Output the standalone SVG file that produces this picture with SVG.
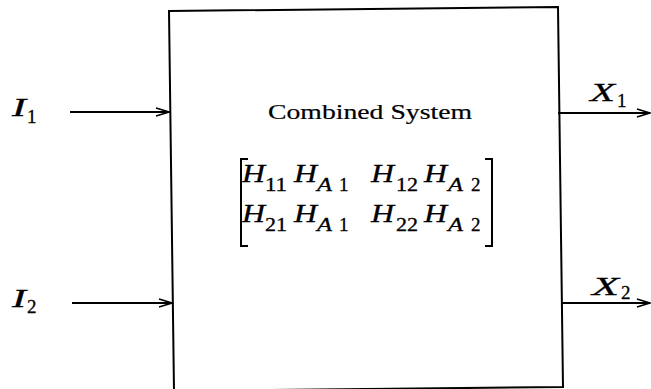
<svg xmlns="http://www.w3.org/2000/svg" width="651" height="389" viewBox="0 0 651 389">
<style>
.ln{stroke:#000;stroke-width:2;fill:none}
.v{font-family:"Liberation Serif",serif;font-style:italic;font-size:26px;fill:#000;stroke:#000;stroke-width:0.3}
.sub{font-family:"Liberation Serif",serif;font-size:19px;fill:#000;stroke:#000;stroke-width:0.3}
.subi{font-family:"Liberation Serif",serif;font-style:italic;font-size:19px;fill:#000;stroke:#000;stroke-width:0.3}
.t{font-family:"Liberation Serif",serif;font-size:22px;fill:#000;stroke:#000;stroke-width:0.2}
</style>
<defs>
<marker id="ah" markerUnits="userSpaceOnUse" markerWidth="16" markerHeight="12" refX="14" refY="6" orient="auto">
<path d="M1,2 L14,6 L1,10" fill="none" stroke="#000" stroke-width="1.6"/>
</marker>
</defs>
<rect width="651" height="389" fill="#fff"/>
<g id="system">
<polygon points="169,11 558,7 563,387 174,391" class="ln" stroke-width="2.5"/>
<text class="t" x="268" y="119" textLength="204" lengthAdjust="spacingAndGlyphs">Combined System</text>
<path class="ln" d="M248,159 H241 V246 H248" stroke-width="2.5"/>
<path class="ln" d="M485,159 H492 V246 H485" stroke-width="2.5"/>
<text class="v" x="242" y="182" textLength="23" lengthAdjust="spacingAndGlyphs">H</text><text class="sub" x="265" y="191" textLength="22" lengthAdjust="spacingAndGlyphs">11</text>
<text class="v" x="294" y="182" textLength="23" lengthAdjust="spacingAndGlyphs">H</text><text class="subi" x="317" y="191" textLength="15" lengthAdjust="spacingAndGlyphs">A</text><text class="sub" x="339" y="191">1</text>
<text class="v" x="371" y="182" textLength="23" lengthAdjust="spacingAndGlyphs">H</text><text class="sub" x="396" y="191" textLength="22" lengthAdjust="spacingAndGlyphs">12</text>
<text class="v" x="424" y="182" textLength="23" lengthAdjust="spacingAndGlyphs">H</text><text class="subi" x="448" y="191" textLength="15" lengthAdjust="spacingAndGlyphs">A</text><text class="sub" x="471" y="191">2</text>
<text class="v" x="242" y="222" textLength="23" lengthAdjust="spacingAndGlyphs">H</text><text class="sub" x="265" y="231" textLength="22" lengthAdjust="spacingAndGlyphs">21</text>
<text class="v" x="294" y="222" textLength="23" lengthAdjust="spacingAndGlyphs">H</text><text class="subi" x="317" y="231" textLength="15" lengthAdjust="spacingAndGlyphs">A</text><text class="sub" x="339" y="231">1</text>
<text class="v" x="371" y="222" textLength="23" lengthAdjust="spacingAndGlyphs">H</text><text class="sub" x="396" y="231" textLength="22" lengthAdjust="spacingAndGlyphs">22</text>
<text class="v" x="424" y="222" textLength="23" lengthAdjust="spacingAndGlyphs">H</text><text class="subi" x="448" y="231" textLength="15" lengthAdjust="spacingAndGlyphs">A</text><text class="sub" x="471" y="231">2</text>
</g>
<g id="in1"><text class="v" x="12" y="116" font-size="30" textLength="14" lengthAdjust="spacingAndGlyphs">I</text><text class="sub" x="27" y="123">1</text></g>
<g id="in2"><text class="v" x="12" y="307" font-size="30" textLength="14" lengthAdjust="spacingAndGlyphs">I</text><text class="sub" x="27" y="313">2</text></g>
<g id="out1"><text class="v" x="590" y="101" textLength="25" lengthAdjust="spacingAndGlyphs">X</text><text class="sub" x="617" y="107">1</text></g>
<g id="out2"><text class="v" x="592" y="295" textLength="27" lengthAdjust="spacingAndGlyphs">X</text><text class="sub" x="621" y="299">2</text></g>
<g id="connectors">
<line class="ln" x1="70" y1="112" x2="169" y2="112" marker-end="url(#ah)"/>
<line class="ln" x1="72" y1="303" x2="172" y2="303" marker-end="url(#ah)"/>
<line class="ln" x1="558" y1="113" x2="650" y2="113" marker-end="url(#ah)"/>
<line class="ln" x1="562" y1="303" x2="650" y2="303" marker-end="url(#ah)"/>
</g>
</svg>
